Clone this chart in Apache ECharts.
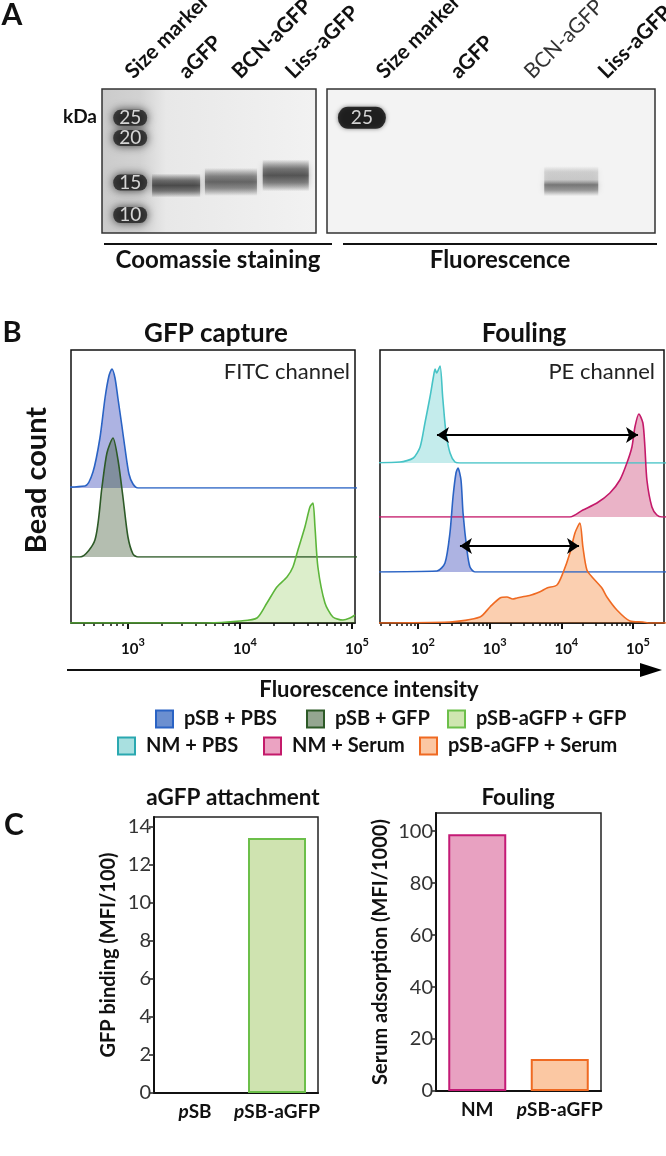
<!DOCTYPE html>
<html><head><meta charset="utf-8">
<script src="https://cdn.jsdelivr.net/npm/echarts@6/dist/echarts.min.js"></script>
<style>html,body{margin:0;padding:0;background:#fff}#c{width:666px;height:1156px}</style>
</head><body><div id="c"></div>
<script>
// ---------------- Panel A : gels ----------------
const gelLanes = ['Size marker', 'aGFP', 'BCN-aGFP', 'Liss-aGFP'];
const markerKDa = [25, 20, 15, 10];
const markerMigration = [20, 34, 65, 87.5];           // % of gel height from top
const coomassieMarkerLane = 0.54;                     // lane position in Coomassie gel
const coomassieBands = [[1.42, 67, 0.9], [2.47, 64.5, 0.75], [3.52, 60, 0.85]]; // lane position, migration %, intensity
const fluoMarker = [[0.5, 20, 25]];                   // lane position, migration %, kDa
const fluoBands = [[3.5, 64, 0.8]];                   // lane position, migration %, intensity

// ---------------- Panel B : histograms [intensity, bead count] ----------------
const fitcPBS = [[100,0],[413,2],[487,16],[562,50],[624,90],[676,112],[719,119],[766,110],[813,90],[883,62],[940,40],[1021,14],[1109,4],[1230,0],[1e6,0]];
const fitcGFP = [[100,0],[373,0],[507,17],[586,70],[649,104],[735,119],[815,97],[902,60],[1000,20],[1109,3],[1228,0],[1e6,0]];
const fitcAGFP = [[100,0],[5070,0],[10000,2],[14190,5],[17420,20],[21380,36],[26300,46],[29720,56],[32960,73],[38020,96],[42170,116],[44870,120],[46770,96],[49660,56],[57410,20],[67610,6],[83180,3],[95940,5],[106400,8]];
const peNMPBS = [[10,0],[56,1],[86,5],[107,16],[125,40],[147,66],[164,86],[173,94],[182,90],[203,97],[221,66],[246,30],[280,10],[328,1],[385,0],[1e7,0]];
const peNMSerum = [[10,0],[13180,0],[20000,7],[31400,14],[47600,24],[65600,37],[82200,54],[96600,70],[106400,90],[120800,103],[137400,94],[146600,70],[156300,37],[183500,10],[215300,2],[253000,0],[1e7,0]];
const pePBS = [[10,0],[184,1],[238,9],[279,39],[308,75],[339,99],[361,104],[398,92],[425,59],[482,22],[531,5],[624,0],[1e7,0]];
const peSerum = [[10,0],[279,1],[733,6],[1009,16],[1393,25],[1743,26],[2100,24],[2403,25],[2800,26],[3313,27],[3800,28],[4571,30],[5300,32],[6305,35],[8694,38],[10530,50],[13180,70],[15490,90],[18160,100],[20000,76],[22740,53],[27610,45],[36830,35],[43250,26],[59570,13],[90570,2],[137400,1],[172200,0],[1e7,0]];
const peArrows = [[184, 117500, 28], [385, 17660, 26]];   // from, to, height
const fitcTicks = [1000, 10000, 100000];
const peTicks = [100, 1000, 10000, 100000];

// ---------------- Panel C : bars ----------------
const attachCats = ['pSB', 'pSB-aGFP'];
const attachVals = [0, 13.4];
const foulCats = ['NM', 'pSB-aGFP'];
const foulVals = [98.8, 12.3];
const attachTicks = [0, 2, 4, 6, 8, 10, 12, 14];
const foulTicks = [0, 20, 40, 60, 80, 100];

// ---------------- styling ----------------
const FF = 'Lato, "Noto Sans", sans-serif';
const C = {
  pbs:   {line: '#2a63c4', fill: 'rgba(60,75,185,0.6)',  icon: '#6b8fd0'},
  gfp:   {line: '#2d5a27', fill: 'rgba(60,85,50,0.55)',  icon: '#94a690'},
  agfp:  {line: '#5cb53a', fill: 'rgba(130,195,70,0.4)', icon: '#cfe6b0'},
  nmpbs: {line: '#46c3c6', fill: 'rgba(70,195,195,0.45)', icon: '#a9e0e0', border: '#2aa8b0'},
  nmser: {line: '#c41a6a', fill: 'rgba(195,40,95,0.5)',  icon: '#eba3c2'},
  ser:   {line: '#ef6a22', fill: 'rgba(245,130,50,0.55)', icon: '#fbc7a3'}
};
const bandSize = [[48, 24], [52, 28], [46, 32]];
const PILL = 'path://M10,0L38,0A10,10 0 0 1 38,20L10,20A10,10 0 0 1 10,0Z';
function bandGrad(a, rgb) {
  const c = o => 'rgba(' + rgb + ',' + o + ')';
  return {type: 'linear', x: 0, y: 0, x2: 0, y2: 1, colorStops: [
    {offset: 0, color: c(0)}, {offset: 0.3, color: c(a * 0.75)}, {offset: 0.5, color: c(a)},
    {offset: 0.72, color: c(a * 0.7)}, {offset: 1, color: c(0)}]};
}

const LX = 71, RX = 380, BW = 284, HH = 130;
const FITC_MIN = 310, FITC_MAX = 106500, PE_MIN = 29.5, PE_MAX = 270700;

function minorTicks(min, max) {
  const out = [];
  for (let e = 0; e < 7; e++) for (let k = 2; k < 10; k++) { const v = k * Math.pow(10, e); if (v >= min && v <= max) out.push(v); }
  return out;
}
const powLabel = {
  formatter: v => '{a|10}{b|' + Math.round(Math.log10(v)) + '}',
  padding: [0, 0, 0, 10],
  margin: 14,
  rich: {
    a: {fontSize: 15, fontWeight: 'bold', fontFamily: FF, color: '#111', lineHeight: 24},
    b: {fontSize: 11, fontWeight: 'bold', fontFamily: FF, color: '#111', lineHeight: 10, verticalAlign: 'top'}
  }
};

const grids = [
  {left: 102, top: 89, width: 214, height: 144, show: true, borderColor: '#333', borderWidth: 1.5,
   backgroundColor: {type: 'linear', x: 0, y: 0, x2: 1, y2: 0, colorStops: [
     {offset: 0, color: '#cbcbcb'}, {offset: 0.18, color: '#d2d2d2'}, {offset: 0.3, color: '#e8e8e8'}, {offset: 1, color: '#f2f2f2'}]}},
  {left: 327, top: 89, width: 328, height: 144, show: true, borderColor: '#333', borderWidth: 1.5, backgroundColor: '#f3f3f3'},
  {left: 343, top: 89, width: 296, height: 144, show: false},
  {left: LX, top: 350, width: BW, height: 273, show: true, borderColor: '#111', borderWidth: 1.5},
  {left: LX, top: 488 - HH, width: BW, height: HH},
  {left: LX, top: 557 - HH, width: BW, height: HH},
  {left: LX, top: 623 - HH, width: BW, height: HH},
  {left: RX, top: 350, width: BW, height: 273, show: true, borderColor: '#111', borderWidth: 1.5},
  {left: RX, top: 463 - HH, width: BW, height: HH},
  {left: RX, top: 517 - HH, width: BW, height: HH},
  {left: RX, top: 572 - HH, width: BW, height: HH},
  {left: RX, top: 623 - HH, width: BW, height: HH},
  {left: 154, top: 817, width: 164, height: 276, show: true, borderColor: '#222', borderWidth: 1.5},
  {left: 436, top: 813, width: 165, height: 278, show: true, borderColor: '#222', borderWidth: 1.5}
].map(g => Object.assign({containLabel: false, outerBoundsMode: 'none'}, g));

const laneLabel = {rotate: 45, margin: 14, fontSize: 21, fontWeight: 'bold', fontFamily: FF, color: '#111', interval: 0};
const hiddenLog = (gi, min, max) => ({gridIndex: gi, type: 'log', logBase: 10, min, max, show: false});
const majorAxis = (gi, min, max, ticks) => ({gridIndex: gi, type: 'log', logBase: 10, min, max, position: 'bottom',
  axisLine: {show: true, lineStyle: {color: '#111', width: 1.5}},
  axisTick: {show: true, customValues: ticks, length: 6, lineStyle: {color: '#111', width: 2}},
  axisLabel: Object.assign({customValues: ticks}, powLabel), splitLine: {show: false}, minorTick: {show: false}});
const minorAxis = (gi, min, max) => ({gridIndex: gi, type: 'log', logBase: 10, min, max, position: 'bottom',
  axisLine: {show: false}, axisTick: {show: true, customValues: minorTicks(min, max), length: 3, lineStyle: {color: '#111', width: 1.5}},
  axisLabel: {show: false}, splitLine: {show: false}});
const catLabel = {
  interval: 0, margin: 9, fontSize: 19, fontWeight: 'bold', fontFamily: FF, color: '#111',
  formatter: v => v.charAt(0) === 'p' ? '{i|p}{n|' + v.slice(1) + '}' : '{n|' + v + '}',
  rich: {i: {fontSize: 19, fontWeight: 'bold', fontStyle: 'italic', fontFamily: FF, color: '#111'},
         n: {fontSize: 19, fontWeight: 'bold', fontFamily: FF, color: '#111'}}
};
const barX = (gi, cats) => ({gridIndex: gi, type: 'category', data: cats, axisLine: {lineStyle: {color: '#111', width: 2}},
  axisTick: {show: false}, axisLabel: catLabel});
const barY = (gi, max, ticks, name, gap) => ({gridIndex: gi, type: 'value', min: 0, max, name, nameLocation: 'middle', nameGap: gap,
  nameTextStyle: {fontSize: 20, fontWeight: 'bold', fontFamily: FF, color: '#111'},
  axisLine: {show: true, lineStyle: {color: '#111', width: 2}},
  axisTick: {show: true, customValues: ticks, length: 5, lineStyle: {color: '#222', width: 1.5}},
  axisLabel: {customValues: ticks, fontSize: 20, fontFamily: FF, color: '#333', margin: 3},
  splitLine: {show: false}});

const xAxes = [
  {gridIndex: 0, type: 'category', data: gelLanes, position: 'top', boundaryGap: true, axisLine: {show: false}, axisTick: {show: false}, axisLabel: laneLabel},
  {gridIndex: 1, type: 'value', min: 0, max: 4.7, show: false},
  {gridIndex: 2, type: 'category', position: 'top', boundaryGap: true, axisLine: {show: false}, axisTick: {show: false}, axisLabel: laneLabel,
   data: gelLanes.map(l => l === 'BCN-aGFP' ? {value: l, textStyle: {fontWeight: 'normal', color: '#333'}} : l)},
  majorAxis(3, FITC_MIN, FITC_MAX, fitcTicks),
  minorAxis(3, FITC_MIN, FITC_MAX),
  hiddenLog(4, FITC_MIN, FITC_MAX), hiddenLog(5, FITC_MIN, FITC_MAX), hiddenLog(6, FITC_MIN, FITC_MAX),
  majorAxis(7, PE_MIN, PE_MAX, peTicks),
  minorAxis(7, PE_MIN, PE_MAX),
  hiddenLog(8, PE_MIN, PE_MAX), hiddenLog(9, PE_MIN, PE_MAX), hiddenLog(10, PE_MIN, PE_MAX), hiddenLog(11, PE_MIN, PE_MAX),
  barX(12, attachCats),
  barX(13, foulCats),
  {gridIndex: 0, type: 'value', min: 0, max: 4.1, show: false}
];
const hidY = (gi, min, max, inverse) => ({gridIndex: gi, type: 'value', min, max, inverse: !!inverse, show: false});
const yAxes = [
  hidY(0, 0, 100, true), hidY(1, 0, 100, true), hidY(2, 0, 100, true), hidY(3, 0, 1),
  hidY(4, 0, HH), hidY(5, 0, HH), hidY(6, 0, HH), hidY(7, 0, 1),
  hidY(8, 0, HH), hidY(9, 0, HH), hidY(10, 0, HH), hidY(11, 0, HH),
  barY(12, 14.5, attachTicks, 'GFP binding (MFI/100)', 35),
  barY(13, 107, foulTicks, 'Serum adsorption (MFI/1000)', 45)
];

function hist(name, data, xi, yi, col, extra) {
  return Object.assign({type: 'line', name, xAxisIndex: xi, yAxisIndex: yi, data, showSymbol: false, symbol: 'none',
    smooth: 0.25, lineStyle: {color: col.line, width: 1.6}, itemStyle: {color: col.line},
    areaStyle: {color: col.fill, origin: 'start'}, silent: true}, extra || {});
}
function arrow(a) {
  return {silent: true, symbol: ['arrow', 'arrow'], symbolSize: 12, lineStyle: {color: '#000', width: 2, type: 'solid'},
    label: {show: false}, emphasis: {disabled: true},
    data: [[{coord: [a[0], a[2]]}, {coord: [a[1], a[2]]}]]};
}

const series = [
  // gel A, Coomassie
  {type: 'scatter', xAxisIndex: 16, yAxisIndex: 0, silent: true, symbol: PILL, symbolKeepAspect: false,
   data: markerMigration.map((m, i) => ({value: [coomassieMarkerLane, m], kda: markerKDa[i]})),
   symbolSize: [34, 16], itemStyle: {color: '#222', shadowBlur: 10, shadowColor: 'rgba(0,0,0,0.9)'},
   label: {show: true, position: 'inside', formatter: p => p.data.kda, color: '#fff', fontSize: 19, fontFamily: FF}},
  {type: 'scatter', xAxisIndex: 16, yAxisIndex: 0, silent: true, symbol: 'rect',
   data: coomassieBands.map((b, i) => ({value: [b[0], b[1]], symbolSize: bandSize[i],
     itemStyle: {color: bandGrad(b[2], '40,40,40'), shadowBlur: 6, shadowColor: 'rgba(60,60,60,' + (b[2] * 0.6) + ')'}}))},
  {type: 'scatter', xAxisIndex: 0, yAxisIndex: 0, data: []},
  // gel A, fluorescence
  {type: 'scatter', xAxisIndex: 1, yAxisIndex: 1, silent: true, symbol: PILL, symbolKeepAspect: false,
   data: fluoMarker.map(m => ({value: [m[0], m[1]], kda: m[2]})),
   symbolSize: [48, 22], itemStyle: {color: '#060606', shadowBlur: 4, shadowColor: 'rgba(0,0,0,0.6)'},
   label: {show: true, position: 'inside', formatter: p => p.data.kda, color: '#fff', fontSize: 19, fontFamily: FF}},
  {type: 'scatter', xAxisIndex: 1, yAxisIndex: 1, silent: true, symbol: 'rect',
   data: fluoBands.map(b => ({value: [b[0], b[1]], symbolSize: [54, 30],
     itemStyle: {color: {type: 'linear', x: 0, y: 0, x2: 0, y2: 1, colorStops: [
       {offset: 0, color: 'rgba(90,90,90,0)'}, {offset: 0.2, color: 'rgba(120,120,120,' + (b[2] * 0.35) + ')'},
       {offset: 0.45, color: 'rgba(120,120,120,' + (b[2] * 0.4) + ')'}, {offset: 0.62, color: 'rgba(70,70,70,' + b[2] + ')'},
       {offset: 0.8, color: 'rgba(70,70,70,' + (b[2] * 0.7) + ')'}, {offset: 1, color: 'rgba(90,90,90,0)'}]},
       shadowBlur: 6, shadowColor: 'rgba(90,90,90,0.4)'}}))},
  {type: 'scatter', xAxisIndex: 2, yAxisIndex: 2, data: []},
  // B left
  hist('pSB + PBS', fitcPBS, 5, 4, C.pbs),
  hist('pSB + GFP', fitcGFP, 6, 5, C.gfp),
  hist('pSB-aGFP + GFP', fitcAGFP, 7, 6, C.agfp),
  // B right
  hist('NM + PBS', peNMPBS, 10, 8, C.nmpbs, {markLine: arrow(peArrows[0])}),
  hist('NM + Serum', peNMSerum, 11, 9, C.nmser),
  hist('pSB + PBS', pePBS, 12, 10, C.pbs, {markLine: arrow(peArrows[1])}),
  hist('pSB-aGFP + Serum', peSerum, 13, 11, C.ser),
  // C
  {type: 'bar', name: 'aGFP attachment', xAxisIndex: 14, yAxisIndex: 12, barWidth: 58, silent: true,
   data: attachVals.map((v, i) => ({value: v, itemStyle: {color: '#cfe3b0', borderColor: '#6cbf4a', borderWidth: v > 0 ? 2 : 0}}))},
  {type: 'bar', name: 'Fouling', xAxisIndex: 15, yAxisIndex: 13, barWidth: 58, silent: true,
   data: foulVals.map((v, i) => ({value: v, itemStyle: {color: ['#e8a1c1', '#fbc8a3'][i], borderColor: ['#c41a76', '#ef6a22'][i], borderWidth: 2}}))}
];

const legendItems = [
  ['pSB + PBS', 155, 709, C.pbs.icon, C.pbs.line],
  ['pSB + GFP', 306, 709, C.gfp.icon, C.gfp.line],
  ['pSB-aGFP + GFP', 447, 709, C.agfp.icon, '#6cbf4a'],
  ['NM + PBS', 117, 736, C.nmpbs.icon, C.nmpbs.border],
  ['NM + Serum', 263, 736, C.nmser.icon, C.nmser.line],
  ['pSB-aGFP + Serum', 419, 736, C.ser.icon, C.ser.line]
];
const legends = legendItems.map(it => ({
  left: it[1], top: it[2], padding: 0, selectedMode: false, itemWidth: 17, itemHeight: 17, icon: 'rect',
  textStyle: {fontSize: 20, fontWeight: 'bold', fontFamily: FF, color: '#111', padding: [0, 0, 0, 6]},
  data: [{name: it[0], icon: 'rect', itemStyle: {color: it[3], borderColor: it[4], borderWidth: 2}}]
}));

function txt(text, x, y, size, opts) {
  opts = opts || {};
  return {type: 'text', x, y, rotation: opts.rotation || 0, silent: true, z: 100,
    style: {text, fontSize: size, fontWeight: opts.weight || 'bold', fontFamily: FF, fill: opts.color || '#111',
      align: opts.align || 'center', textAlign: opts.align || 'center', verticalAlign: 'middle', textVerticalAlign: 'middle'}};
}
function hline(x1, x2, y) { return {type: 'line', silent: true, shape: {x1, y1: y, x2, y2: y}, style: {stroke: '#111', lineWidth: 2}}; }

const graphics = [
  txt('A', 12, 15, 30), txt('B', 12, 333, 29), txt('C', 14, 825, 30),
  txt('kDa', 63, 117, 19, {align: 'left'}),
  hline(104, 332, 244), hline(343, 657, 244),
  txt('Coomassie staining', 218, 260, 24), txt('Fluorescence', 500, 260, 24),
  txt('GFP capture', 216, 334, 26), txt('Fouling', 524, 334, 26),
  txt('FITC channel', 350, 372, 22, {align: 'right', weight: 'normal', color: '#222'}),
  txt('PE channel', 655, 372, 22, {align: 'right', weight: 'normal', color: '#222'}),
  txt('Bead count', 37, 480, 29, {rotation: Math.PI / 2}),
  hline(67, 645, 670),
  {type: 'polygon', silent: true, shape: {points: [[640, 663], [662, 670], [640, 677]]}, style: {fill: '#000'}},
  txt('Fluorescence intensity', 369, 690, 22),
  txt('aGFP attachment', 233, 798, 22.5), txt('Fouling', 518, 798, 22.5)
];

const chart = echarts.init(document.getElementById('c'), null, {width: 666, height: 1156});
chart.setOption({
  animation: false, backgroundColor: '#fff',
  grid: grids, xAxis: xAxes, yAxis: yAxes, series, legend: legends, graphic: graphics
});
</script></body></html>
